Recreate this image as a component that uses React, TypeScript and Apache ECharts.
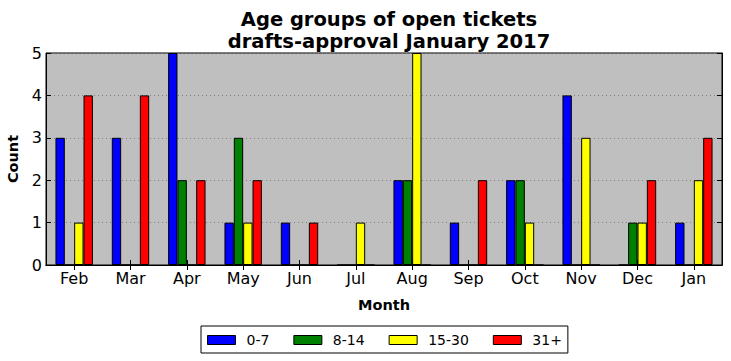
import React, { useEffect, useRef } from "react";
import * as echarts from "echarts";

const months = ["Feb", "Mar", "Apr", "May", "Jun", "Jul", "Aug", "Sep", "Oct", "Nov", "Dec", "Jan"];
const age0to7 = [3, 3, 5, 1, 1, 0, 2, 1, 2, 4, 0, 1];
const age8to14 = [0, 0, 2, 3, 0, 0, 2, 0, 2, 0, 1, 0];
const age15to30 = [1, 0, 0, 1, 0, 1, 5, 0, 1, 3, 1, 2];
const age31plus = [4, 4, 2, 2, 1, 0, 0, 2, 0, 0, 2, 3];
const seriesNames = ["0-7", "8-14", "15-30", "31+"];
const seriesColors = ["#0000ff", "#008000", "#ffff00", "#ff0000"];
const yTicks = [0, 1, 2, 3, 4, 5];

const FONT = "DejaVu Sans";

export default function App() {
  const ref = useRef<HTMLDivElement>(null);
  useEffect(() => {
    if (!ref.current) return;
    const chart = echarts.init(ref.current, undefined, { renderer: "svg" });
    const data = [age0to7, age8to14, age15to30, age31plus];
    chart.setOption({
      animation: false,
      title: {
        text: "Age groups of open tickets\ndrafts-approval January 2017",
        left: 384,
        textAlign: "center",
        top: 3,
        textStyle: { fontFamily: FONT, fontWeight: "bold", fontSize: 19.5, color: "#000", lineHeight: 22 },
      },
      grid: {
        left: 46,
        right: 9,
        top: 53,
        bottom: 96,
        show: true,
        containLabel: false,
        outerBoundsMode: "none",
        backgroundColor: "#bfbfbf",
        borderColor: "#000",
        borderWidth: 1,
      },
      legend: {
        data: seriesNames,
        left: 201,
        top: 326,
        orient: "horizontal",
        itemWidth: 28,
        itemHeight: 9,
        itemGap: 24,
        padding: [7, 6, 6, 6],
        borderColor: "#000",
        borderWidth: 1,
        backgroundColor: "#fff",
        borderRadius: 0,
        icon: "rect",
        itemStyle: { borderColor: "#000", borderWidth: 1 },
        textStyle: { fontFamily: FONT, fontSize: 14, color: "#000", padding: [0, 0, 0, 6] },
      },
      xAxis: [
        {
          type: "category",
          data: months,
          position: "bottom",
          name: "Month",
          nameLocation: "middle",
          nameGap: 32,
          nameTextStyle: { fontFamily: FONT, fontWeight: "bold", fontSize: 14.5, color: "#000" },
          axisLine: { lineStyle: { color: "#000", width: 1 } },
          axisTick: { show: true, inside: true, alignWithLabel: true, length: 5, lineStyle: { color: "#000" } },
          axisLabel: { fontFamily: FONT, fontSize: 16, color: "#000", margin: 5 },
          splitLine: { show: false },
        },
        {
          type: "category",
          data: months,
          position: "top",
          axisLine: { lineStyle: { color: "#000", width: 1 } },
          axisTick: { show: true, inside: true, alignWithLabel: true, length: 5, lineStyle: { color: "#000" } },
          axisLabel: { show: false },
          splitLine: { show: false },
        },
      ],
      yAxis: [
        {
          type: "value",
          min: 0,
          max: 5,
          interval: 1,
          name: "Count",
          nameLocation: "middle",
          nameGap: 22,
          nameRotate: 90,
          nameTextStyle: { fontFamily: FONT, fontWeight: "bold", fontSize: 14.5, color: "#000" },
          axisLine: { show: true, lineStyle: { color: "#000", width: 1 } },
          axisTick: { show: true, inside: true, length: 5, lineStyle: { color: "#000" } },
          axisLabel: {
            fontFamily: FONT,
            fontSize: 16,
            color: "#000",
            margin: 4,
            formatter: (v: number) => (yTicks.includes(v) ? String(v) : ""),
          },
          splitLine: { show: true, lineStyle: { color: "#808080", type: [1, 3], width: 1 } },
        },
        {
          type: "value",
          min: 0,
          max: 5,
          interval: 1,
          position: "right",
          axisLine: { show: true, lineStyle: { color: "#000", width: 1 } },
          axisTick: { show: true, inside: true, length: 5, lineStyle: { color: "#000" } },
          axisLabel: { show: false },
          splitLine: { show: false },
        },
      ],
      series: seriesNames.map((name, i) => ({
        name,
        type: "bar",
        xAxisIndex: 0,
        yAxisIndex: 0,
        data: data[i],
        barWidth: "16.6%",
        barGap: "0%",
        itemStyle: { color: seriesColors[i], borderColor: "#000", borderWidth: 1 },
      })),
    });
    return () => chart.dispose();
  }, []);
  return <div ref={ref} style={{ width: 731, height: 361, position: "absolute", left: 0, top: 0 }} />;
}
